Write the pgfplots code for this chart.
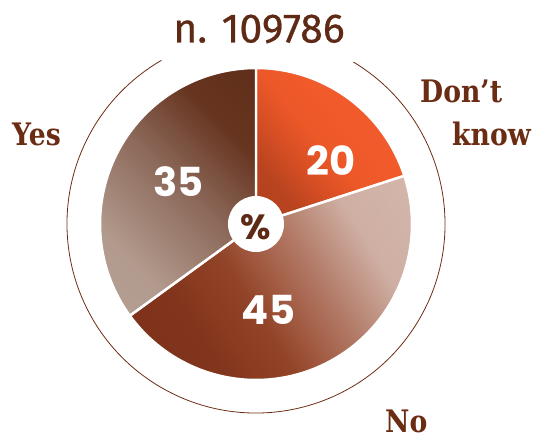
\documentclass[border=0pt]{standalone}
\usepackage{pgfplots}
\usepackage{pgfplotstable}
\usepackage{fontspec}
\pgfplotsset{compat=1.18}
\setmainfont{Fira Sans}
\newfontfamily\titlefont{Fira Sans}[FakeBold=0.6]
\newfontfamily\numfont{Poppins}
\newfontfamily\labfont{DejaVu Serif}[FakeStretch=0.86]

\definecolor{txtbrown}{HTML}{5E2A16}
\definecolor{labbrown}{HTML}{6B2C14}
% don't know
\definecolor{dka}{HTML}{A83C1B}
\definecolor{dkb}{HTML}{B8441F}
\definecolor{dkc}{HTML}{D64E24}
\definecolor{dkd}{HTML}{EC5828}
\definecolor{dke}{HTML}{F15A2A}
\definecolor{dkf}{HTML}{F25C2A}
% no
\definecolor{noa}{HTML}{762D16}
\definecolor{nob}{HTML}{82351D}
\definecolor{noc}{HTML}{8C3D21}
\definecolor{nod}{HTML}{924428}
\definecolor{noe}{HTML}{A25B42}
\definecolor{nof}{HTML}{B27A67}
\definecolor{nog}{HTML}{CFAFA3}
\definecolor{noh}{HTML}{D8BDB2}
% yes
\definecolor{yesa}{HTML}{B8A397}
\definecolor{yesb}{HTML}{B29B8E}
\definecolor{yesc}{HTML}{8D6A5B}
\definecolor{yesd}{HTML}{66341F}
\definecolor{yese}{HTML}{5A2A16}

\pgfdeclarehorizontalshading{dkshade}{100bp}{%
  color(0bp)=(dka); color(28bp)=(dkb); color(38bp)=(dkc);
  color(48bp)=(dkd); color(58bp)=(dke); color(100bp)=(dkf)}
\pgfdeclarehorizontalshading{noshade}{100bp}{%
  color(0bp)=(noa); color(32bp)=(nob); color(38bp)=(noc);
  color(44bp)=(nod); color(50bp)=(noe); color(58bp)=(nof);
  color(70bp)=(nog); color(100bp)=(noh)}
\pgfdeclarehorizontalshading{yesshade}{100bp}{%
  color(0bp)=(yesa); color(29bp)=(yesb); color(51bp)=(yesc);
  color(70bp)=(yesd); color(100bp)=(yese)}

\pgfplotstableread{
label value
Dontknow 20
No 45
Yes 35
}\piedata

\begin{document}
\begin{tikzpicture}
\pgfplotstablegetelem{0}{value}\of\piedata \let\vA\pgfplotsretval
\pgfplotstablegetelem{1}{value}\of\piedata \let\vB\pgfplotsretval
\pgfplotstablegetelem{2}{value}\of\piedata \let\vC\pgfplotsretval
\pgfmathsetmacro\aA{90-3.6*\vA}
\pgfmathsetmacro\aB{\aA-3.6*\vB}
\pgfmathsetmacro\aC{\aB-3.6*\vC}
\begin{axis}[
    scale only axis,
    width=539bp, height=436bp,
    xmin=0, xmax=539, ymin=0, ymax=436,
    hide axis, clip=false,
]
\path (axis cs:0,0) rectangle (axis cs:539,436);

% outer ring
\draw[labbrown, line width=0.8pt]
  (axis cs:{256+189*cos(59)},{212+189*sin(59)})
  arc[start angle=59, end angle=-240, radius=189];

% wedges
\addplot[draw=white, line width=2.5pt, line join=round,
  shading=dkshade, shading angle=40,
  domain=\aA:90, samples=60, variable=\t]
  ({256+156*cos(\t)},{212+156*sin(\t)}) -- (axis cs:256,212) -- cycle;
\addplot[draw=white, line width=2.5pt, line join=round,
  shading=noshade, shading angle=32,
  domain=\aB:\aA, samples=90, variable=\t]
  ({256+156*cos(\t)},{212+156*sin(\t)}) -- (axis cs:256,212) -- cycle;
\addplot[draw=white, line width=2.5pt, line join=round,
  shading=yesshade, shading angle=45,
  domain=\aC:\aB, samples=80, variable=\t]
  ({256+156*cos(\t)},{212+156*sin(\t)}) -- (axis cs:256,212) -- cycle;

% centre disc
\fill[white] (axis cs:256,212) circle [radius=28];
\node[txtbrown, font=\numfont\bfseries\fontsize{35bp}{37bp}\selectfont]
  at (axis cs:256,208.5) {\%};

% values
\node[white, font=\numfont\bfseries\fontsize{40bp}{42bp}\selectfont] at (axis cs:331,275.5) {20};
\node[white, font=\numfont\bfseries\fontsize{40bp}{42bp}\selectfont] at (axis cs:268.5,126) {45};
\node[white, font=\numfont\bfseries\fontsize{40bp}{42bp}\selectfont] at (axis cs:178.5,254) {35};

% title and labels
\node[txtbrown, font=\titlefont\fontsize{41bp}{44bp}\selectfont] at (axis cs:259,407) {n. 109786};
\node[labbrown, font=\labfont\bfseries\fontsize{31bp}{35bp}\selectfont, anchor=base west, inner sep=0pt] at (axis cs:12,291) {Yes};
\node[labbrown, font=\labfont\bfseries\fontsize{31bp}{35bp}\selectfont, anchor=base west, inner sep=0pt] at (axis cs:420,334) {Don’t};
\node[labbrown, font=\labfont\bfseries\fontsize{31bp}{35bp}\selectfont, anchor=base west, inner sep=0pt] at (axis cs:452,291) {know};
\node[labbrown, font=\labfont\bfseries\fontsize{31bp}{35bp}\selectfont, anchor=base west, inner sep=0pt] at (axis cs:385,4) {No};
\end{axis}
\end{tikzpicture}
\end{document}
